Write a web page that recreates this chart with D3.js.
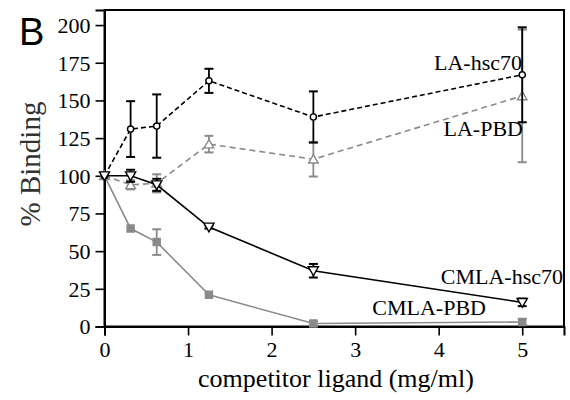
<!DOCTYPE html>
<html>
<head>
<meta charset="utf-8">
<script src="https://cdn.jsdelivr.net/npm/d3@7"></script>
<style>
  html, body { margin: 0; padding: 0; background: #fff; }
  svg { display: block; }
</style>
</head>
<body>
<svg id="chart" width="570" height="400"></svg>
<script>
// Competitor ligand concentrations (mg/ml)
const concentrations = [0, 0.3125, 0.625, 1.25, 2.5, 5];

// % binding per series, with symmetric error (±)
const laHsc70 = [100, 131, 133, 163, 139, 167];
const laHsc70Err = [0, 18.5, 21, 8, 17, 31.5];

const laPbd = [100, 94, 95, 121, 111, 153];
const laPbdErr = [0, 3, 6, 5.5, 11.5, 44];

const cmlaHsc70 = [100, 100, 94, 66, 37, 16];
const cmlaHsc70Err = [0, 4, 4, 1, 4.5, 2.5];

const cmlaPbd = [100, 65, 56, 21, 2, 3];
const cmlaPbdErr = [0, 0, 8.5, 0, 1.5, 2];

const xTicks = [0, 1, 2, 3, 4, 5];
const yTicks = [0, 25, 50, 75, 100, 125, 150, 175, 200];

const GRAY = "#8a8a8a";
const BLACK = "#000";
const SERIF = "'Liberation Serif', 'Times New Roman', Times, serif";
const SANS = "'Liberation Sans', Arial, Helvetica, sans-serif";

const series = [
  { name: "LA-PBD", values: laPbd, err: laPbdErr, color: GRAY, dash: "6,4", marker: "triUp" },
  { name: "CMLA-PBD", values: cmlaPbd, err: cmlaPbdErr, color: GRAY, dash: null, marker: "square" },
  { name: "LA-hsc70", values: laHsc70, err: laHsc70Err, color: BLACK, dash: "5,3", marker: "circle" },
  { name: "CMLA-hsc70", values: cmlaHsc70, err: cmlaHsc70Err, color: BLACK, dash: null, marker: "triDown" }
];

const svg = d3.select("#chart");
const plotLeft = 104.5, plotRight = 564, plotTop = 10, plotBottom = 326.5;

const x = d3.scaleLinear().domain([0, 5.5]).range([plotLeft, plotRight]);
const y = d3.scaleLinear().domain([0, 210]).range([plotBottom, plotTop]);

// Frame
svg.append("rect")
  .attr("x", plotLeft).attr("y", plotTop)
  .attr("width", plotRight - plotLeft).attr("height", plotBottom - plotTop)
  .attr("fill", "none").attr("stroke", "#000").attr("stroke-width", 2);

// Axes
const xAxis = d3.axisBottom(x).tickValues(xTicks).tickSize(9).tickPadding(6).tickFormat(d3.format("d"));
const yAxis = d3.axisLeft(y).tickValues(yTicks).tickSize(9).tickPadding(5).tickFormat(d3.format("d"));

const gx = svg.append("g").attr("transform", `translate(0,${plotBottom})`).call(xAxis);
const gy = svg.append("g").attr("transform", `translate(${plotLeft},0)`).call(yAxis);
[gx, gy].forEach(g => {
  g.attr("font-family", null).attr("font-size", null);
  g.select(".domain").attr("stroke-width", 2);
  g.selectAll(".tick line").attr("stroke-width", 1.6);
  g.selectAll(".tick text")
    .style("font-family", SERIF)
    .style("font-size", "22px").attr("fill", "#000");
});
gy.selectAll(".tick text").attr("dy", "0.34em");

// Series lines, error bars, markers
const line = d3.line().x((d, i) => x(concentrations[i])).y(d => y(d));

series.forEach(s => {
  const g = svg.append("g");
  g.append("path")
    .attr("d", line(s.values))
    .attr("fill", "none")
    .attr("stroke", s.color)
    .attr("stroke-width", 1.6)
    .attr("stroke-dasharray", s.dash);

  const pts = s.values.map((v, i) => ({ x: concentrations[i], v, e: s.err[i] }));

  const eb = g.selectAll(".eb").data(pts.filter(p => p.e > 0)).join("g");
  eb.append("line")
    .attr("x1", d => x(d.x)).attr("x2", d => x(d.x))
    .attr("y1", d => y(d.v - d.e)).attr("y2", d => y(d.v + d.e))
    .attr("stroke", s.color).attr("stroke-width", 1.8);
  [-1, 1].forEach(sign => {
    eb.append("line")
      .attr("x1", d => x(d.x) - 4.5).attr("x2", d => x(d.x) + 4.5)
      .attr("y1", d => y(d.v + sign * d.e)).attr("y2", d => y(d.v + sign * d.e))
      .attr("stroke", s.color).attr("stroke-width", 2);
  });

  const symbolType = {
    circle: d3.symbolCircle,
    square: d3.symbolSquare,
    triUp: d3.symbolTriangle,
    triDown: d3.symbolTriangle
  }[s.marker];
  const size = { circle: 30, square: 50, triUp: 40, triDown: 45 }[s.marker];
  const rot = s.marker === "triDown" ? 180 : 0;

  g.selectAll(".pt").data(pts).join("path")
    .attr("d", d3.symbol().type(symbolType).size(size))
    .attr("transform", d => `translate(${x(d.x)},${y(d.v) + (s.marker === "triUp" ? 1 : s.marker === "triDown" ? -1 : 0)}) rotate(${rot})`)
    .attr("fill", s.marker === "square" ? s.color : "#fff")
    .attr("stroke", s.color)
    .attr("stroke-width", 1.4);
});

// Series labels
const labels = [
  { text: "LA-hsc70", x: 522, y: 70, anchor: "end" },
  { text: "LA-PBD", x: 523, y: 136, anchor: "end" },
  { text: "CMLA-hsc70", x: 563, y: 284, anchor: "end" },
  { text: "CMLA-PBD", x: 486, y: 315, anchor: "end" }
];
svg.selectAll(".slabel").data(labels).join("text")
  .attr("x", d => d.x).attr("y", d => d.y)
  .attr("text-anchor", d => d.anchor)
  .style("font-family", SERIF).style("font-size", "22px")
  .attr("fill", "#000")
  .text(d => d.text);

// Axis titles
svg.append("text")
  .attr("x", 336).attr("y", 387)
  .attr("text-anchor", "middle")
  .style("font-family", SERIF).style("font-size", "26px")
  .attr("fill", "#000")
  .text("competitor ligand (mg/ml)");

svg.append("text")
  .attr("transform", "translate(40,164) rotate(-90)")
  .attr("text-anchor", "middle")
  .style("font-family", SERIF).style("font-size", "29px")
  .attr("fill", "#333")
  .text("% Binding");

// Panel letter
svg.append("text")
  .attr("x", 19).attr("y", 45)
  .style("font-family", SANS).style("font-size", "38px")
  .attr("fill", "#000")
  .text("B");
</script>
</body>
</html>
